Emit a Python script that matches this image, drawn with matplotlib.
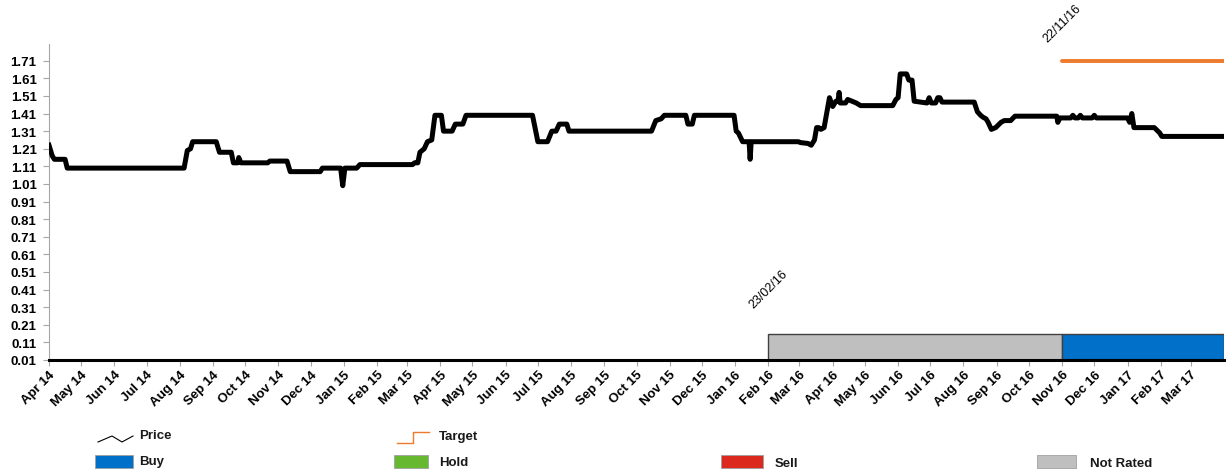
import numpy as np
import pandas as pd
import matplotlib
matplotlib.use("Agg")
import matplotlib.pyplot as plt
from matplotlib.patches import Rectangle
from matplotlib.lines import Line2D

plt.rcParams['font.family'] = ['Liberation Sans', 'DejaVu Sans']

# ---- Data ----
price_dates = [
    "2014-04-01", "2014-04-04", "2014-04-06", "2014-04-16", "2014-04-18",
    "2014-08-05", "2014-08-08", "2014-08-11", "2014-08-13", "2014-09-04",
    "2014-09-07", "2014-09-18", "2014-09-20", "2014-09-24", "2014-09-25",
    "2014-09-27", "2014-10-22", "2014-10-24", "2014-11-09", "2014-11-12",
    "2014-12-10", "2014-12-12", "2014-12-29", "2014-12-31", "2015-01-02",
    "2015-01-13", "2015-01-16", "2015-03-06", "2015-03-08", "2015-03-11",
    "2015-03-13", "2015-03-17", "2015-03-20", "2015-03-24", "2015-03-27",
    "2015-04-02", "2015-04-04", "2015-04-12", "2015-04-15", "2015-04-22",
    "2015-04-25", "2015-06-26", "2015-07-01", "2015-07-10", "2015-07-14",
    "2015-07-18", "2015-07-21", "2015-07-28", "2015-07-30", "2015-10-15",
    "2015-10-19", "2015-10-24", "2015-10-27", "2015-11-16", "2015-11-18",
    "2015-11-22", "2015-11-24", "2015-12-31", "2016-01-02", "2016-01-04",
    "2016-01-08", "2016-01-14", "2016-01-15", "2016-01-16", "2016-02-29",
    "2016-03-02", "2016-03-09", "2016-03-12", "2016-03-15", "2016-03-17",
    "2016-03-19", "2016-03-21", "2016-03-24", "2016-03-29", "2016-04-01",
    "2016-04-02", "2016-04-04", "2016-04-06", "2016-04-07", "2016-04-08",
    "2016-04-13", "2016-04-15", "2016-04-19", "2016-04-23", "2016-04-27",
    "2016-05-27", "2016-05-30", "2016-06-01", "2016-06-03", "2016-06-09",
    "2016-06-11", "2016-06-14", "2016-06-16", "2016-06-28", "2016-06-30",
    "2016-07-02", "2016-07-06", "2016-07-08", "2016-07-10", "2016-07-12",
    "2016-08-11", "2016-08-14", "2016-08-17", "2016-08-19", "2016-08-22",
    "2016-08-24", "2016-08-27", "2016-08-31", "2016-09-05", "2016-09-08",
    "2016-09-14", "2016-09-18", "2016-10-27", "2016-10-28", "2016-10-30",
    "2016-11-09", "2016-11-11", "2016-11-13", "2016-11-16", "2016-11-18",
    "2016-11-20", "2016-11-29", "2016-12-01", "2016-12-03", "2017-01-01",
    "2017-01-03", "2017-01-05", "2017-01-07", "2017-01-26", "2017-01-31",
    "2017-02-02", "2017-03-31",
]
price_values = [
    1.23, 1.17, 1.15, 1.15, 1.10,
    1.10, 1.20, 1.21, 1.25, 1.25,
    1.19, 1.19, 1.13, 1.13, 1.16,
    1.13, 1.13, 1.14, 1.14, 1.08,
    1.08, 1.10, 1.10, 1.00, 1.10,
    1.10, 1.12, 1.12, 1.13, 1.13,
    1.19, 1.21, 1.25, 1.26, 1.40,
    1.40, 1.31, 1.31, 1.35, 1.35,
    1.40, 1.40, 1.25, 1.25, 1.31,
    1.31, 1.35, 1.35, 1.31, 1.31,
    1.37, 1.38, 1.40, 1.40, 1.35,
    1.35, 1.40, 1.40, 1.31, 1.30,
    1.25, 1.25, 1.15, 1.25, 1.25,
    1.245, 1.24, 1.23, 1.26, 1.33,
    1.33, 1.32, 1.33, 1.50, 1.45,
    1.46, 1.48, 1.48, 1.53, 1.47,
    1.47, 1.49, 1.48, 1.47, 1.455,
    1.455, 1.49, 1.50, 1.635, 1.635,
    1.60, 1.60, 1.48, 1.47, 1.50,
    1.47, 1.47, 1.50, 1.50, 1.475,
    1.475, 1.42, 1.40, 1.39, 1.38,
    1.36, 1.32, 1.33, 1.36, 1.37,
    1.37, 1.395, 1.395, 1.36, 1.385,
    1.385, 1.40, 1.385, 1.385, 1.40,
    1.385, 1.385, 1.40, 1.385, 1.385,
    1.36, 1.41, 1.33, 1.33, 1.30,
    1.28, 1.28,
]

target_dates = ["2016-11-01", "2017-04-01"]
target_values = [1.71, 1.71]

rating_names = ["Not Rated", "Buy"]
rating_starts = ["2016-02-01", "2016-11-01"]
rating_ends = ["2016-11-01", "2017-04-01"]
rating_labels = ["23/02/16", "22/11/16"]
rating_height = 0.145

month_ticks = pd.date_range("2014-04-01", "2017-03-01", freq="MS")
yticks = [round(0.01 + 0.1 * i, 2) for i in range(18)]

colors = {"Buy": "#0070C8", "Hold": "#66B82E", "Sell": "#DC291E",
          "Not Rated": "#BFBFBF"}
orange = "#EE7A2E"

# ---- Plot ----
fig = plt.figure(figsize=(12.26, 4.77), dpi=100)
ax = fig.add_axes([49 / 1226, 1 - 361 / 477, (1224 - 49) / 1226, (361 - 45) / 477])

pd_dates = pd.to_datetime(price_dates)
ax.plot(pd_dates, price_values, color="black", lw=3.6, solid_joinstyle="round",
        zorder=3)

t_dates = pd.to_datetime(target_dates)
ax.plot(t_dates, target_values, color=orange, lw=2.8, solid_capstyle="round",
        zorder=3)

for name, s, e in zip(rating_names, rating_starts, rating_ends):
    s, e = pd.Timestamp(s), pd.Timestamp(e)
    ax.bar(s, rating_height, width=(e - s).days, bottom=0.01, align="edge",
           color=colors[name], edgecolor="#404040", lw=1.0, zorder=2)

# date labels of rating/target changes
ax.annotate(rating_labels[0], xy=(pd.Timestamp(rating_starts[0]), 0.01 + rating_height),
            xytext=(0, 33), textcoords="offset points", rotation=45,
            ha="center", va="center", fontsize=9, annotation_clip=False)
ax.annotate(rating_labels[1], xy=(t_dates[0], target_values[0]),
            xytext=(0, 27), textcoords="offset points", rotation=45,
            ha="center", va="center", fontsize=9, annotation_clip=False)

ax.set_xlim(pd.Timestamp("2014-04-01"), pd.Timestamp("2017-04-01"))
ax.set_ylim(0.01, 1.805)
ax.set_yticks(yticks)
ax.set_yticklabels([f"{v:.2f}" for v in yticks], fontweight="bold", fontsize=9.5)

ax.set_xticks(month_ticks)
ax.set_xticklabels([d.strftime("%b %y") for d in month_ticks], rotation=45,
                   ha="right", rotation_mode="anchor", fontweight="bold",
                   fontsize=9.5)

ax.spines["top"].set_visible(False)
ax.spines["right"].set_visible(False)
ax.spines["left"].set_color("#A6A6A6")
ax.spines["bottom"].set_color("black")
ax.spines["bottom"].set_linewidth(2.2)
ax.tick_params(axis="y", length=4, color="#A6A6A6", pad=5)
ax.tick_params(axis="x", length=4, color="#A6A6A6", pad=2)

# ---- Legend (drawn in figure pixels) ----
def fx(x):
    return x / 1226

def fy(y):
    return 1 - y / 477

fig.add_artist(Line2D([fx(98), fx(112), fx(122), fx(133)],
                      [fy(443), fy(437), fy(443), fy(437)],
                      color="black", lw=0.8, transform=fig.transFigure))
fig.add_artist(Line2D([fx(397), fx(413), fx(413), fx(429)],
                      [fy(444), fy(444), fy(433), fy(433)],
                      color=orange, lw=1.0, transform=fig.transFigure))

legend_boxes = [("Buy", 95, 133), ("Hold", 394, 428), ("Sell", 721, 763),
                ("Not Rated", 1037, 1076)]
for name, x0, x1 in legend_boxes:
    fig.add_artist(Rectangle((fx(x0), fy(469)), fx(x1) - fx(x0), fy(456) - fy(469),
                             facecolor=colors[name], edgecolor="#A0A0A0", lw=0.6,
                             transform=fig.transFigure))

legend_texts = [("Price", 139, 436), ("Target", 439, 437), ("Buy", 139, 462),
                ("Hold", 439, 463), ("Sell", 775, 464), ("Not Rated", 1090, 464)]
for txt, x, y in legend_texts:
    fig.text(fx(x), fy(y), txt, ha="left", va="center", fontsize=9.5,
             fontweight="bold", color="#1A1A1A")

fig.savefig("out.png", dpi=100)
plt.close(fig)
